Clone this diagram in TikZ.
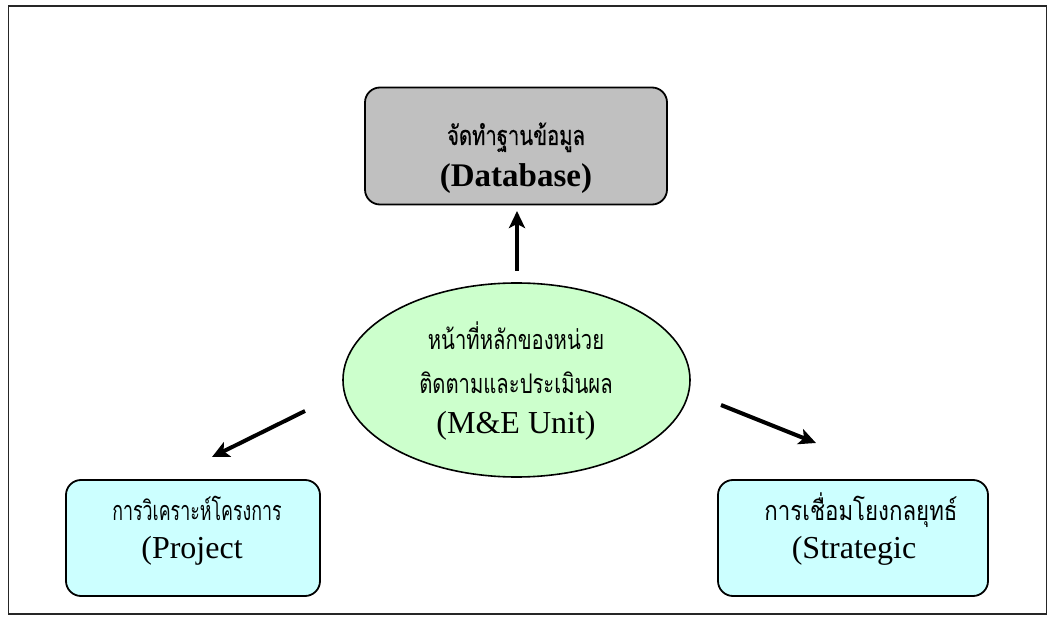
\documentclass[tikz,border=0pt]{standalone}
\usepackage{fontspec}
\setmainfont{Liberation Serif}
\newfontfamily\thaifont[Script=Thai,FakeStretch=0.75]{Loma}
\newfontfamily\thaibold[Script=Thai,FakeStretch=0.75,FakeBold=0.5]{Loma}
\usetikzlibrary{arrows.meta,shapes.geometric}
\definecolor{boxgray}{HTML}{C0C0C0}
\definecolor{lgreen}{HTML}{CCFFCC}
\definecolor{lcyan}{HTML}{CCFFFF}
\begin{document}
\begin{tikzpicture}[x=1pt,y=-1pt,
  rbox/.style={draw=black,line width=1.8pt,rounded corners=15pt,inner sep=0pt},
  thai/.style={inner sep=0pt,anchor=base,text height=20pt,text depth=3pt,font=\thaifont\fontsize{27}{30}\selectfont},
  latin/.style={inner sep=0pt,anchor=base,text height=22pt,text depth=6pt,font=\fontsize{32}{36}\selectfont},
  arr/.style={line width=4pt,-{Stealth[length=17pt,width=16pt,inset=4pt]}}]
\useasboundingbox (0,0) rectangle (1052,617);
\draw[line width=1.6pt,draw=black!85] (8.5,6) rectangle (1046.5,614);
% shapes
\node[rbox,fill=boxgray,minimum width=302pt,minimum height=117pt] (db) at (516,146) {};
\node[draw=black,line width=1.6pt,fill=lgreen,ellipse,minimum width=347pt,minimum height=194pt,inner sep=0pt] (me) at (516.5,380) {};
\node[rbox,fill=lcyan,minimum width=254pt,minimum height=116pt] (pj) at (193,538) {};
\node[rbox,fill=lcyan,minimum width=270pt,minimum height=116pt] (st) at (853,538) {};
% texts
\node[thai,font=\thaibold\fontsize{27}{30}\selectfont] (dbt) at (516,145) {จัดทำฐานข้อมูล};
\node[latin,font=\bfseries\fontsize{33}{36}\selectfont] (dbl) at (516,187) {(Database)};
\node[thai] (met1) at (516,350) {หน้าที่หลักของหน่วย};
\node[thai] (met2) at (516,393) {ติดตามและประเมินผล};
\node[latin] (mel) at (516,433) {(M\&E Unit)};
\node[thai] (pjt) at (197,520) {\scalebox{0.88}[1]{การวิเคราะห์โครงการ}};
\node[latin] (pjl) at (192,558) {(Project};
\node[thai] (stt) at (861,520) {\scalebox{1.1}[1]{การเชื่อมโยงกลยุทธ์}};
\node[latin] (stl) at (854,558) {(Strategic};
% arrow ends
\coordinate (a1s) at (517,271);
\coordinate (a1e) at (517,211);
\coordinate (a2s) at (305,411);
\coordinate (a2e) at (212,457);
\coordinate (a3s) at (721,405);
\coordinate (a3e) at (816,443);
\draw[arr] (a1s) -- (a1e);
\draw[arr] (a2s) -- (a2e);
\draw[arr] (a3s) -- (a3e);
\end{tikzpicture}
\end{document}
